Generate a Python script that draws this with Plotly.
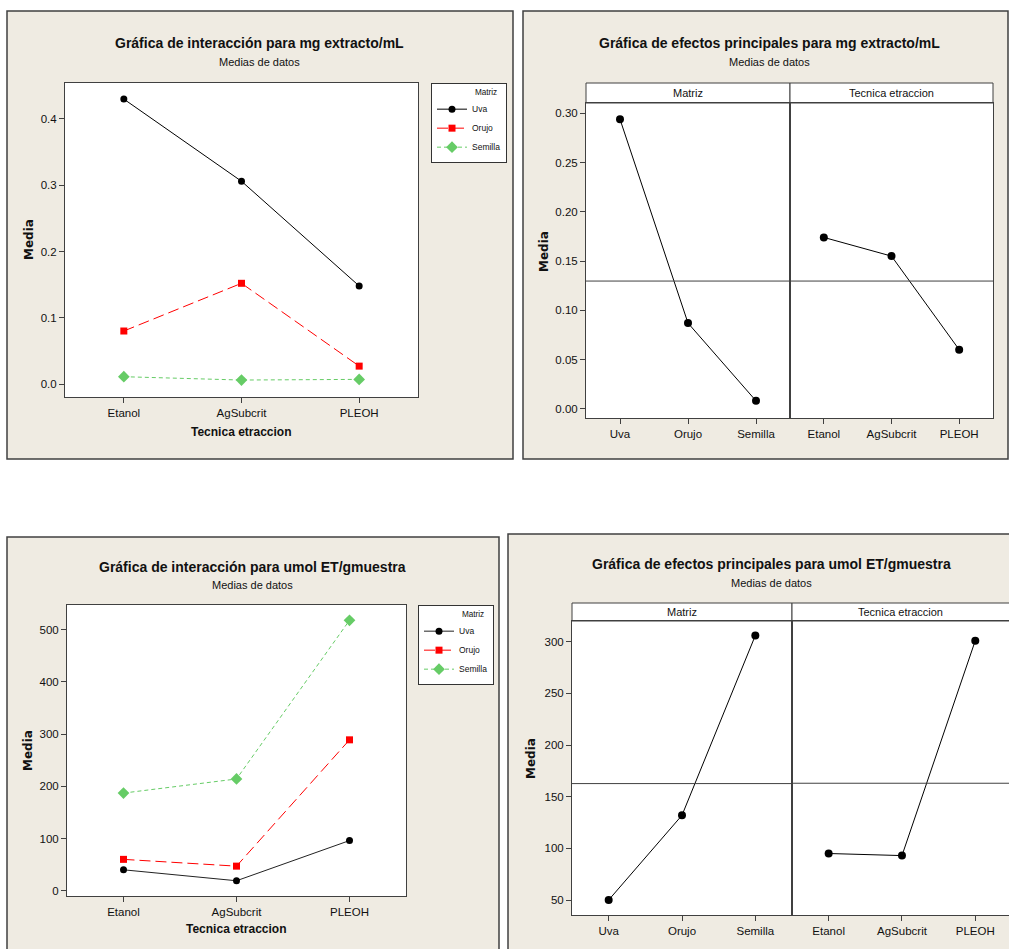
import glob
import plotly.graph_objects as go
import numpy as np

# ---------------- data ----------------
tecnicas = ["Etanol", "AgSubcrit", "PLEOH"]
matrices = ["Uva", "Orujo", "Semilla"]

# Interaction means, mg extracto/mL
mg_uva = [0.430, 0.306, 0.148]
mg_orujo = [0.080, 0.152, 0.027]
mg_semilla = [0.011, 0.006, 0.007]

# Main effects, mg extracto/mL
mg_matriz = [0.294, 0.087, 0.008]
mg_tecnica = [0.174, 0.155, 0.060]

# Interaction means, umol ET/gmuestra
umol_uva = [40, 19, 96]
umol_orujo = [60, 47, 289]
umol_semilla = [187, 214, 518]

# Main effects, umol ET/gmuestra
umol_matriz = [50, 132, 306]
umol_tecnica = [95, 93, 301]

# ---------------- fonts ----------------
narrow_files = []
for root in ["/usr/share/fonts", "/usr/local/share/fonts"]:
    narrow_files += glob.glob(root + "/**/LiberationSansNarrow*", recursive=True)
if narrow_files:
    FONT = "Liberation Sans Narrow"
    K = 1.0 / 0.82
else:
    FONT = "Liberation Sans, Arial, sans-serif"
    K = 1.0
def fs(s):
    return round(s * K, 1)

# ---------------- layout helpers ----------------
W, H = 1009, 949
def px(x):
    return x / W
def py(y):
    return 1 - y / H

BEIGE = "#EFEBE2"
LINE = "#404040"
GREEN = "#66CC66"
RED = "#FF0000"

fig = go.Figure()

series_styles = [
    dict(name="Uva", color="black", symbol="circle", size=7, dash="solid"),
    dict(name="Orujo", color=RED, symbol="square", size=7, dash="11px,5px"),
    dict(name="Semilla", color=GREEN, symbol="diamond", size=9, dash="4px,3px"),
]

def add_interaction(values_list, xa, ya, legend, uva_line_color="black"):
    for vals, st in zip(values_list, series_styles):
        lc = uva_line_color if st["name"] == "Uva" else st["color"]
        fig.add_trace(go.Scatter(
            x=tecnicas, y=vals, mode="lines+markers", name=st["name"],
            xaxis=xa, yaxis=ya, legend=legend,
            line=dict(color=lc, width=1, dash=st["dash"]),
            marker=dict(color=st["color"], symbol=st["symbol"], size=st["size"]),
        ))

add_interaction([mg_uva, mg_orujo, mg_semilla], "x", "y", "legend")
add_interaction([umol_uva, umol_orujo, umol_semilla], "x4", "y4", "legend2",
                uva_line_color="#222222")

def add_main(cats, vals, xa, ya):
    fig.add_trace(go.Scatter(
        x=cats, y=vals, mode="lines+markers", showlegend=False,
        xaxis=xa, yaxis=ya,
        line=dict(color="black", width=1),
        marker=dict(color="black", symbol="circle", size=8),
    ))

add_main(matrices, mg_matriz, "x2", "y2")
add_main(tecnicas, mg_tecnica, "x3", "y3")
add_main(matrices, umol_matriz, "x5", "y5")
add_main(tecnicas, umol_tecnica, "x6", "y6")

# ---------------- axes ----------------
TICKFONT = dict(size=fs(11.5), color="#111111", family=FONT)

def xax(d0, d1, anchor, rng=(-0.5, 2.5)):
    return dict(domain=[px(d0), px(d1)], anchor=anchor, type="category",
                range=list(rng), showline=True, mirror=True, linecolor=LINE,
                linewidth=1, ticks="outside", ticklen=5, tickcolor=LINE,
                showgrid=False, zeroline=False, tickfont=TICKFONT)

def yax(d0, d1, anchor, rng, dtick, fmt, labels=True, mirror=True):
    return dict(domain=[py(d1), py(d0)], anchor=anchor, range=list(rng),
                dtick=dtick, tickformat=fmt, showline=True, mirror=mirror,
                linecolor=LINE, linewidth=1,
                ticks="outside" if labels else "", ticklen=5, tickcolor=LINE,
                showticklabels=labels, showgrid=False, zeroline=False,
                tickfont=TICKFONT)

fig.update_layout(
    xaxis=xax(65, 418, "y"),
    yaxis=yax(83, 397, "x", (-0.0196, 0.4543), 0.1, ".1f"),
    xaxis2=xax(586, 790, "y2"),
    yaxis2=yax(103, 418, "x2", (-0.0094, 0.3105), 0.05, ".2f"),
    xaxis3=xax(790, 993, "y3"),
    yaxis3=yax(103, 418, "x3", (-0.0094, 0.3105), 0.05, ".2f", labels=False),
    xaxis4=xax(67, 406, "y4"),
    yaxis4=yax(605, 896, "x4", (-10.2, 547.3), 100, "d"),
    xaxis5=xax(572, 792, "y5"),
    yaxis5=yax(621, 915, "x5", (35.5, 320), 50, "d"),
    xaxis6=xax(792, 1009, "y6", rng=(-0.5, 2.46)),
    yaxis6=yax(621, 915, "x6", (35.5, 320), 50, "d", labels=False, mirror=False),
)

# ---------------- shapes (panel frames, plot backgrounds, strips, ref lines) ----------------
shapes = []
def rect(x0, y0, x1, y1, fill, lc=LINE, lw=1):
    shapes.append(dict(type="rect", xref="paper", yref="paper",
                       x0=px(x0), x1=px(x1), y0=py(y1), y1=py(y0),
                       fillcolor=fill, line=dict(color=lc, width=lw), layer="below"))

# panel frames
rect(7, 11, 513, 459, BEIGE, lw=1.5)
rect(523, 11, 1008, 459, BEIGE, lw=1.5)
rect(7, 537, 499, 952, BEIGE, lw=1.5)
rect(508, 534, 1012, 952, BEIGE, lw=1.5)
# white plot areas
rect(65, 83, 418, 397, "white", lw=0)
rect(586, 103, 993, 418, "white", lw=0)
rect(67, 605, 406, 896, "white", lw=0)
rect(572, 621, 1012, 915, "white", lw=0)
# strips
rect(586, 83, 790, 103, "white")
rect(790, 83, 993, 103, "white")
rect(572, 603, 792, 621, "white")
rect(792, 603, 1015, 621, "white")

# reference (grand mean) lines
for xa, ya, vals in [("x2", "y2", mg_matriz), ("x3", "y3", mg_tecnica),
                     ("x5", "y5", umol_matriz), ("x6", "y6", umol_tecnica)]:
    m = float(np.mean(vals))
    shapes.append(dict(type="line", xref=f"{xa} domain", yref=ya, x0=0, x1=1,
                       y0=m, y1=m, line=dict(color=LINE, width=1), layer="above"))

fig.update_layout(shapes=shapes)

# ---------------- texts ----------------
ann = []
def text(x, y, s, size=12, bold=False, angle=0, color="#111111", family=None):
    ann.append(dict(x=px(x), y=py(y), xref="paper", yref="paper",
                    text=f"<b>{s}</b>" if bold else s, showarrow=False,
                    xanchor="center", yanchor="middle", textangle=angle,
                    font=dict(size=size, color=color, family=family or FONT)))

text(259, 43, "Gráfica de interacción para mg extracto/mL", size=fs(14), bold=True)
text(259, 62, "Medias de datos", size=fs(11))
text(769, 43, "Gráfica de efectos principales para mg extracto/mL", size=fs(14), bold=True)
text(769, 62, "Medias de datos", size=fs(11))
text(252, 567, "Gráfica de interacción para umol ET/gmuestra", size=fs(14), bold=True)
text(252, 585, "Medias de datos", size=fs(11))
text(771, 564, "Gráfica de efectos principales para umol ET/gmuestra", size=fs(14), bold=True)
text(771, 583, "Medias de datos", size=fs(11))

text(241, 432, "Tecnica etraccion", size=fs(12), bold=True)
text(236, 929, "Tecnica etraccion", size=fs(12), bold=True)

VERD = "DejaVu Sans, Verdana, sans-serif"
text(29, 240, "Media", size=12, bold=True, angle=-90, family=VERD)
text(544, 252, "Media", size=12, bold=True, angle=-90, family=VERD)
text(28, 751, "Media", size=12, bold=True, angle=-90, family=VERD)
text(531, 759, "Media", size=12, bold=True, angle=-90, family=VERD)

text(688, 93, "Matriz", size=fs(11))
text(891, 93, "Tecnica etraccion", size=fs(11))
text(682, 612, "Matriz", size=fs(11))
text(900, 612, "Tecnica etraccion", size=fs(11))

fig.update_layout(annotations=ann)

# ---------------- legends ----------------
def leg(x, y):
    return dict(x=px(x), y=py(y), xanchor="left", yanchor="top",
                bgcolor="white", bordercolor="#333333", borderwidth=1,
                font=dict(size=fs(8.5), family=FONT, color="#111111"),
                title=dict(text="\u00a0" * 15 + "Matriz", side="top center",
                           font=dict(size=fs(8.2), family=FONT)),
                itemwidth=30, tracegroupgap=0)

fig.update_layout(legend=leg(431, 83), legend2=leg(418, 605))

fig.update_layout(
    width=W, height=H, margin=dict(l=0, r=0, t=0, b=0),
    paper_bgcolor="white", plot_bgcolor="white",
    font=dict(family=FONT, size=12, color="#111111"),
    showlegend=True,
)

fig.write_html("out.html", config={"displayModeBar": False},
               post_script="document.body.style.margin='0px';document.body.style.overflow='hidden';")
